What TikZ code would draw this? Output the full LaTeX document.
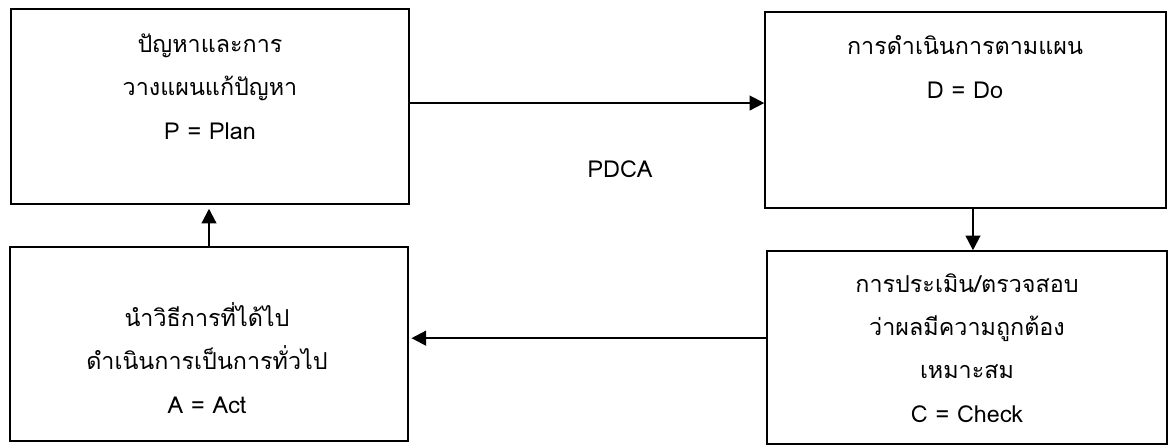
\documentclass[tikz,border=0pt]{standalone}
\usepackage{fontspec}
\setmainfont[Script=Thai]{Loma}
\usetikzlibrary{arrows.meta}
\begin{document}
\begin{tikzpicture}[x=0.75pt,y=-0.75pt,
  stagebox/.style={draw,line width=1.1pt,inner sep=0pt,minimum width=#1},
  stagetext/.style={anchor=base,align=center,font=\fontsize{17.5pt}{32.5pt}\selectfont},
  flow/.style={line width=1.6pt,-{Triangle[length=11pt,width=11pt]}}]
  \useasboundingbox (0,0) rectangle (1170,446);
  % the four stages of the cycle
  \node[stagebox=298.5pt,minimum height=146.25pt] (P) at (210,106.5) {};
  \node[stagebox=300.75pt,minimum height=147pt]   (D) at (965.5,110) {};
  \node[stagebox=298.5pt,minimum height=145.5pt]  (A) at (209,344) {};
  \node[stagebox=300pt,minimum height=144.75pt]   (C) at (967,347.5) {};
  % stage descriptions (anchored on the baseline of the last line)
  \node[stagetext] (Ptext) at (210,139) {ปัญหาและการ\\วางแผนแก้ปัญหา\\P = Plan};
  \node[stagetext] (Dtext) at (965,98) {การดำเนินการตามแผน\\D = Do};
  \node[stagetext] (Atext) at (207,413) {นำวิธีการที่ได้ไป\\ดำเนินการเป็นการทั่วไป\\A = Act};
  \node[stagetext] (Ctext) at (967,422) {การประเมิน/ตรวจสอบ\\ว่าผลมีความถูกต้อง\\เหมาะสม\\C = Check};
  \node[stagetext] (title) at (620,177) {PDCA};
  % flow between the stages
  \draw[flow] ([yshift=2.6pt]P.east) -- ([yshift=2.6pt]P.east -| D.west);
  \draw[flow] ([xshift=5.6pt]D.south) -- ([xshift=5.6pt]D.south |- C.north);
  \draw[flow,shorten >=2pt] ([yshift=7pt]C.west) -- ([yshift=7pt]C.west -| A.east);
  \draw[flow,shorten >=3pt] (A.north) -- (A.north |- P.south);
\end{tikzpicture}
\end{document}
